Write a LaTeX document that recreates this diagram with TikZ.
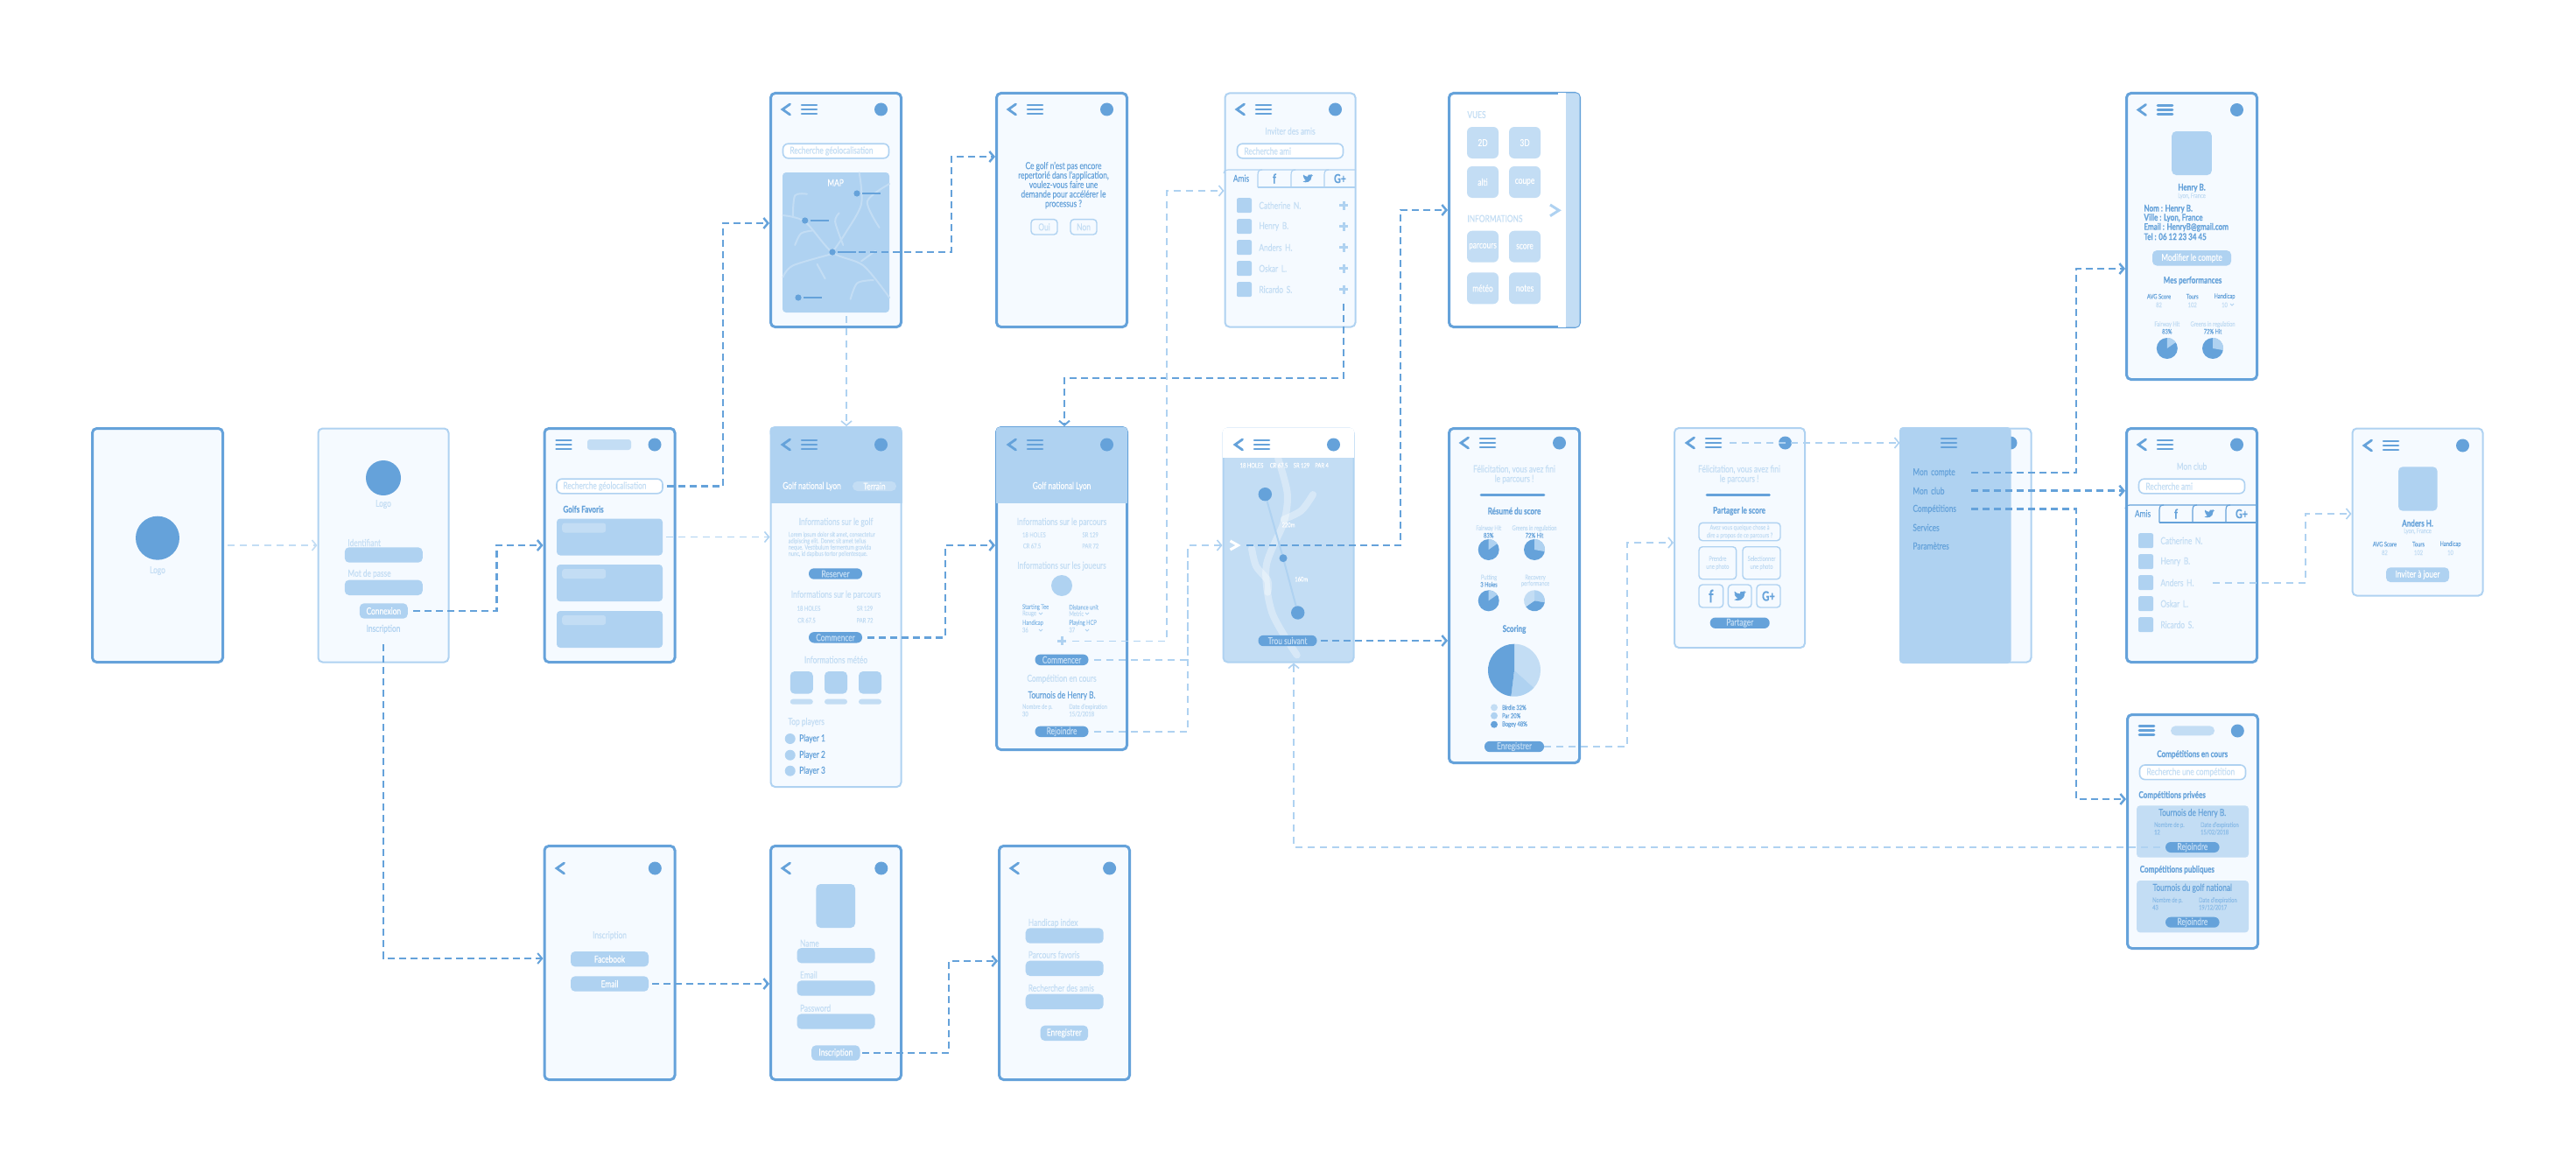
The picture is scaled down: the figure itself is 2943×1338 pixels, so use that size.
\documentclass[tikz,border=0pt]{standalone}
\usepackage{fontspec}
\setmainfont[FakeStretch=0.76,FakeBold=0.25]{Lato}
\usetikzlibrary{arrows.meta}
\definecolor{bleufort}{HTML}{65A2DA}
\definecolor{bleumoyen}{HTML}{AFD2F1}
\definecolor{bleuclair}{HTML}{C3DDF4}
\definecolor{fond}{HTML}{F5FAFF}
\definecolor{demi}{HTML}{8DBDE8}
\tikzset{
ecran/.style={rectangle,rounded corners=2.5pt,inner sep=0pt,minimum width=74.5pt,minimum height=133.5pt,fill=fond},
efort/.style={ecran,draw=bleufort,line width=1.5pt},
eclair/.style={ecran,draw=bleumoyen,line width=1pt},
txt/.style={inner sep=0pt,font=\fontsize{5.5}{6.5}\selectfont},
ptxt/.style={inner sep=0pt,font=\fontsize{3.8}{4.5}\selectfont},
gtxt/.style={inner sep=0pt,font=\fontsize{5.3}{6.5}\selectfont\bfseries},
tc/.style={text=bleuclair},
tm/.style={text=bleumoyen},
tf/.style={text=bleufort},
td/.style={text=demi},
tw/.style={text=white},
ga/.style={anchor=west},
champ/.style={rectangle,rounded corners=2.5pt,inner sep=0pt,fill=bleumoyen,minimum width=44.5pt,minimum height=8.7pt},
bmoyen/.style={champ,txt,tw},
bfort/.style={rectangle,rounded corners=3pt,inner sep=0pt,fill=bleufort,minimum width=30.5pt,minimum height=6.2pt,txt,tc},
saisie/.style={rectangle,rounded corners=3pt,inner sep=0pt,draw=bleumoyen,line width=.8pt,fill=white,minimum width=60.5pt,minimum height=8.3pt},
option/.style={rectangle,rounded corners=2pt,inner sep=0pt,draw=bleumoyen,line width=.7pt},
carre/.style={rectangle,rounded corners=1pt,inner sep=0pt,fill=bleumoyen,minimum size=8.5pt},
tuile/.style={rectangle,rounded corners=3pt,inner sep=0pt,fill=bleuclair,minimum size=18pt,txt,tw},
carte/.style={rectangle,rounded corners=2pt,inner sep=0pt,fill=bleumoyen,minimum width=60.5pt,minimum height=21pt},
pastille/.style={rectangle,rounded corners=1.5pt,inner sep=0pt,fill=bleuclair},
point/.style={circle,inner sep=0pt,fill=bleufort,minimum size=3.6pt},
lienfort/.style={draw=bleufort,line width=1.25pt,dash pattern=on 4pt off 2.5pt,-{Straight Barb[length=2.5pt,width=6pt]}},
lienclair/.style={draw=bleumoyen,line width=.8pt,dash pattern=on 4pt off 3pt,-{Straight Barb[length=2.5pt,width=6pt]}},
}
\newcommand{\retour}[2]{\draw[bleufort,line width=1.4pt,line cap=round] (#1+8.5,#2-6) -- (#1,#2) -- (#1+8.5,#2+6);}
\newcommand{\menuB}[2]{\foreach \dy in {-5,0,5} {\draw[bleufort,line width=1.3pt,line cap=round] (#1+1,#2+\dy) -- (#1+18,#2+\dy);}}
\newcommand{\rond}[2]{\fill[bleufort] (#1,#2) circle (7.5);}
\newcommand{\entete}[2]{\retour{#1+15}{#2}\menuB{#1+36}{#2}\rond{#1+127.5}{#2}}
\newcommand{\plusB}[2]{\draw[bleumoyen,line width=1.5pt] (#1-5,#2) -- (#1+5,#2) (#1,#2-5) -- (#1,#2+5);}
\newcommand{\sousv}[2]{\draw[bleumoyen,line width=.4pt] (#1-2,#2-1) -- (#1,#2+1) -- (#1+2,#2-1);}
\newcommand{\oiseau}[3]{\fill[bleufort,shift={(#1,#2)},scale=#3] (-5.5,3.5) .. controls (-2,5.5) and (4.5,4) .. (4.5,-2.5) -- (6,-4) -- (4,-3.6) -- (5,-5) -- (3.2,-4.3) .. controls (1.5,-5.5) and (-.5,-4) .. (0,-2.2) .. controls (-2,-2.2) and (-4,-3.2) .. (-5,-4.5) .. controls (-5.5,-3) and (-5,-2) .. (-4,-1.2) -- (-5,-1.5) .. controls (-5,-.5) and (-4,.3) .. (-3.2,.5) -- (-4.2,.5) .. controls (-3.8,1.5) and (-3,2) .. (-2,2.1) .. controls (-3,3) and (-4.2,3.5) .. (-5.5,3.5) -- cycle;}
\newcommand{\onglets}[4]{\draw[#4,line width=.6pt] (#2,#3+93) .. controls (#2,#3+90) and (#2+2,#3+89) .. (#2+5,#3+89) -- (#2+151,#3+89);
\foreach \sep in {39,77,115} {\draw[#4,line width=.6pt] (#2+\sep,#3+109) -- (#2+\sep,#3+95) .. controls (#2+\sep,#3+91) and (#2+\sep+1,#3+89) .. (#2+\sep+5,#3+89);}
\draw[#4,line width=.6pt] (#2+39,#3+109) -- (#2+151,#3+109);
\node (#1a) at (#2+20,#3+98.7) [txt,tf] {Amis};
\node (#1f) at (#2+58,#3+99) [inner sep=0pt,tf,font=\fontsize{7.5}{8}\selectfont\bfseries] {f};
\oiseau{#2+96}{#3+99}{1}
\node (#1g) at (#2+133,#3+99) [inner sep=0pt,tf,font=\fontsize{7}{8}\selectfont\bfseries] {G+};}
\newcommand{\listeNoms}[3]{\foreach \nom [count=\i] in {Catherine N.,Henry B.,Anders H.,Oskar L.,Ricardo S.} {
\node (#1C\i) at (#2+23.5,#3+105.7+24*\i) [carre] {};
\node (#1N\i) at (#2+40,#3+105.7+24*\i) [txt,tc,ga,text width=29.5pt] {\nom};}}
\newcommand{\bandeau}[5]{\fill[#5,rounded corners=2pt] (#1,#2) rectangle (#3,#2+12);
\fill[#5] (#1,#2+6) rectangle (#3,#4);}
\newcommand{\secteur}[6]{\fill[#6] (#1,#2) -- ++(#4:#3) arc[start angle=#4,end angle=#5,radius=#3] -- cycle;}
\newcommand{\petitPie}[3]{\fill[bleufort] (#1,#2) circle (12);
\secteur{#1}{#2}{6pt}{90}{#3}{bleumoyen}}
\begin{document}
\begin{tikzpicture}[x=0.5pt,y=-0.5pt]
\useasboundingbox (0,0) rectangle (2943,1338);

\node (ELOGO) at (180,623) [efort] {};
\fill[bleufort] (180,614.7) circle (25);
\node (ELOGOt) at (180,652) [txt,tc] {Logo};

\node (ECNX) at (438,623) [eclair] {};
\fill[bleufort] (438,546) circle (20);
\node (ECNXa) at (438,576) [txt,tc] {Logo};
\node (ECNXb) at (397,620) [txt,tc,ga] {Identifiant};
\node (ECNXc) at (438.3,634) [champ] {};
\node (ECNXd) at (397,655.7) [txt,tc,ga] {Mot de passe};
\node (ECNXe) at (438.3,671.3) [champ] {};
\node (BCNX) at (438.3,698) [bmoyen,minimum width=27.5pt] {Connexion};
\node (TINS) at (438,718.7) [txt,tm] {Inscription};

\node (EFAV) at (696.5,623) [efort] {};
\menuB{634.5}{508}
\node (EFAVp) at (696,508) [pastille,minimum width=25pt,minimum height=6pt] {};
\rond{748}{508}
\node (RGEO) at (696.5,555.5) [saisie] {};
\node (RGEOt) at (643,555.5) [txt,tc,ga] {Recherche géolocalisation};
\node (EFAVt) at (643,581.7) [gtxt,tf,ga] {Golfs Favoris};
\foreach \yc [count=\i] in {613.5,666,719} {
\node (CFAV\i) at (696.5,\yc) [carte] {};
\node (CFAVp\i) at (667.2,\yc-10.5) [pastille,minimum width=25pt,minimum height=5.5pt] {};
}

\node (EMAP) at (955,240) [efort] {};
\entete{879}{125}
\node (RMAP) at (955,172.5) [saisie] {};
\node (RMAPt) at (902,172.5) [txt,tc,ga] {Recherche géolocalisation};
\node (CMAP) at (955,277) [carte,minimum width=61pt,minimum height=80pt] {};
\node (CMAPt) at (954.6,208.7) [txt,tw] {MAP};
\begin{scope}[shift={(860,90)},x=.2296pt,y=-.1667pt]
\foreach \route in {{(75,468) (130,490) (198,595) (275,640) (340,750)},{(75,680) (100,640) (198,600)},{(265,322) (270,430) (230,530) (198,595)},{(340,360) (285,420) (315,510)},{(100,470) (105,400) (135,395)},{(215,460) (205,490) (225,570)},{(160,635) (180,685)},{(105,570) (120,530) (150,520)},{(243,755) (260,700) (300,690)},{(270,625) (305,590)}} {
\draw[bleuclair,line width=1pt,line cap=round] plot[smooth] coordinates {\route};
}
\end{scope}
\foreach \xa/\ya/\nom in {979/221/A,919.7/252/B,951/288/C,912/340/D} {
\node (PT\nom) at (\xa,\ya) [point] {};
\draw[bleufort,line width=1.1pt] (\xa+6,\ya) -- (\xa+27,\ya);
}

\node (EDEM) at (1213,240) [efort] {};
\entete{1137}{125}
\node (EDEMt) at (1215,211.5) [txt,tf,align=center,font=\fontsize{5.5}{5.4}\selectfont] {Ce golf n’est pas encore\\repertorié dans l’application,\\voulez-vous faire une\\demande pour accélérer le\\processus ?};
\node (BOUI) at (1193,259.3) [option,minimum width=15pt,minimum height=8.7pt,txt,tc] {Oui};
\node (BNON) at (1238,259.3) [option,minimum width=15pt,minimum height=8.7pt,txt,tc] {Non};

\node (EAMI) at (1474,240) [eclair] {};
\entete{1398}{125}
\node (EAMIt) at (1474,149.7) [txt,tc] {Inviter des amis};
\node (RAMI) at (1474,172.5) [saisie] {};
\node (RAMIt) at (1421,172.5) [txt,tc,ga] {Recherche ami};
\onglets{OAMI}{1398}{105}{bleumoyen}
\listeNoms{LAMI}{1398}{105}
\foreach \i in {1,...,5} {\plusB{1535}{210.7+24*\i}}
\coordinate (PAMI) at (1535,330.7);

\node (EVUE) at (1730,240) [efort,fill=white] {};
\fill[bleuclair,rounded corners=2pt] (1780,106.5) rectangle (1804.5,373.5);
\fill[white] (1780,106.5) rectangle (1789,373.5);
\node (EVUEa) at (1676,131) [txt,tc,ga] {VUES};
\node (EVUEb) at (1676,249.7) [txt,tc,ga] {INFORMATIONS};
\foreach \xc/\yc/\nom/\lab in {1694/163/a/2D,1742/163/b/3D,1694/208/c/alti,1742/208/d/coupe,1694/281.7/e/parcours,1742/281.7/f/score,1694/329.3/g/météo,1742/329.3/h/notes} {
\node (TV\nom) at (\xc,\yc) [tuile] {\lab};
}
\draw[bleumoyen,line width=1.5pt] (1771,234) -- (1781,240.3) -- (1771,246.7);

\node (EGOLF) at (955,693.5) [eclair,minimum height=205.5pt] {};
\bandeau{879.5}{487.5}{1030.5}{575}{bleumoyen}
\entete{879}{508}
\node (EGOLFa) at (927.5,555.7) [txt,tw] {Golf national Lyon};
\node (BTER) at (999,555.5) [pastille,rounded corners=2.7pt,minimum width=25pt,minimum height=5.5pt,txt,tw] {Terrain};
\node (EGOLFb) at (955,596.7) [txt,tc] {Informations sur le golf};
\node (EGOLFc) at (900.4,622) [ptxt,tc,ga,align=left,font=\fontsize{3.7}{3.65}\selectfont] {Lorem ipsum dolor sit amet, consectetur\\adipiscing elit. Donec sit amet tellus\\neque. Vestibulum fermentum gravida\\nunc, id dapibus tortor pellentesque.};
\node (BRES) at (954.5,655.5) [bfort] {Reserver};
\node (EGOLFd) at (955,679.7) [txt,tc] {Informations sur le parcours};
\node (EGOLFe) at (924,695) [ptxt,tc] {18 HOLES};
\node (EGOLFf) at (988,695) [ptxt,tc] {SR 129};
\node (EGOLFg) at (921.5,708.7) [ptxt,tc] {CR 67.5};
\node (EGOLFh) at (988,708.7) [ptxt,tc] {PAR 72};
\node (BCOA) at (954.5,728.3) [bfort] {Commencer};
\node (EGOLFi) at (955,753.7) [txt,tc] {Informations météo};
\foreach \xc [count=\i] in {915.8,955,994} {
\node (TM\i) at (\xc,779.8) [pastille,fill=bleumoyen,rounded corners=2.5pt,minimum width=13pt,minimum height=12.8pt] {};
\node (PM\i) at (\xc,801.7) [pastille,minimum width=13pt,minimum height=3pt] {};
}
\node (EGOLFj) at (900,825) [txt,tc,ga] {Top players};
\foreach \yc [count=\i] in {844,862.7,880.7} {
\fill[bleumoyen] (902.7,\yc) circle (6);
\node (PL\i) at (912.8,\yc) [txt,tf,ga] {Player \i};
}

\node (EPARC) at (1213,672.5) [efort,minimum height=184pt] {};
\bandeau{1138}{488}{1288}{575}{bleumoyen}
\entete{1137}{508}
\node (EPARCa) at (1213,555.7) [txt,tw] {Golf national Lyon};
\node (EPARCb) at (1213,596.7) [txt,tc] {Informations sur le parcours};
\node (EPARCc) at (1181.4,611) [ptxt,tc] {18 HOLES};
\node (EPARCd) at (1245.7,611) [ptxt,tc] {SR 129};
\node (EPARCe) at (1179,623.7) [ptxt,tc] {CR 67.5};
\node (EPARCf) at (1245.7,623.7) [ptxt,tc] {PAR 72};
\node (EPARCg) at (1213,646.7) [txt,tc] {Informations sur les joueurs};
\fill[bleumoyen] (1213,669) circle (12);
\node (EPARCh) at (1167.6,693.7) [ptxt,td,ga] {Starting Tee};
\node (EPARCi) at (1167.6,701) [ptxt,tc,ga] {Rouge};
\node (EPARCj) at (1221,693.7) [ptxt,td,ga] {Distance unit};
\node (EPARCk) at (1221,701) [ptxt,tc,ga] {Metric};
\node (EPARCl) at (1167.6,711.7) [ptxt,td,ga] {Handicap};
\node (EPARCm) at (1167.6,719.7) [ptxt,tc,ga] {36};
\node (EPARCn) at (1221,711.7) [ptxt,td,ga] {Playing HCP};
\node (EPARCo) at (1221,719.7) [ptxt,tc,ga] {37};
\sousv{1189}{701}\sousv{1242}{701}\sousv{1189}{720}\sousv{1242}{720}
\plusB{1213}{732.3}
\coordinate (PPARC) at (1213,732.3);
\node (BCOB) at (1213,753.8) [bfort] {Commencer};
\node (EPARCp) at (1213,775.7) [txt,tc] {Compétition en cours};
\node (EPARCq) at (1213,794.7) [txt,tf] {Tournois de Henry B.};
\node (EPARCr) at (1167.6,807.7) [ptxt,tc,ga] {Nombre de p.};
\node (EPARCs) at (1167.6,815.7) [ptxt,tc,ga] {30};
\node (EPARCt) at (1221,807.7) [ptxt,tc,ga] {Date d’expiration};
\node (EPARCu) at (1221,815.7) [ptxt,tc,ga] {15/2/2018};
\node (BREJ) at (1213,835.8) [bfort] {Rejoindre};

\node (ETROU) at (1472,623) [eclair,fill=bleuclair] {};
\bandeau{1397}{489}{1547}{523}{white}
\entete{1396}{508}
\begin{scope}[shift={(1380,480)},x=.1667pt,y=-.1667pt]
\draw[white,opacity=.35,line width=4pt,line cap=round] plot[smooth] coordinates {(240,130) (272,250) (260,350) (200,500) (220,660) (305,805)};
\draw[white,opacity=.35,line width=4pt,line cap=round] plot[smooth] coordinates {(360,255) (320,310) (260,340)};
\draw[white,opacity=.35,line width=4pt,line cap=round] plot[smooth] coordinates {(150,440) (165,500) (205,550) (205,590)};
\draw[bleumoyen,line width=1pt] (196,254) -- (258,473) -- (308,660);
\end{scope}
\node (ETROUa) at (1430,531.7) [ptxt,tw] {18 HOLES};
\node (ETROUb) at (1461,531.7) [ptxt,tw] {CR 67.5};
\node (ETROUc) at (1487,531.7) [ptxt,tw] {SR 129};
\node (ETROUd) at (1510,531.7) [ptxt,tw] {PAR 4};
\fill[bleufort] (1445.3,564.7) circle (7.7);
\fill[bleufort] (1466,637.7) circle (4.5);
\fill[bleufort] (1482.7,700) circle (7.7);
\node (ETROUe) at (1472,599.7) [ptxt,tw] {220m};
\node (ETROUf) at (1486.7,661.7) [ptxt,tw] {160m};
\draw[white,line width=1.5pt] (1405.5,618) -- (1414.5,623) -- (1405.5,628);
\coordinate (CTROU) at (1412,623);
\node (BTROU) at (1471,732) [bfort,minimum width=33.5pt] {Trou suivant};

\node (ESCO) at (1730,680.5) [efort,minimum height=191pt] {};
\entete{1654}{506}
\node (ESCOa) at (1730,542) [txt,tc,align=center,font=\fontsize{5.5}{5.5}\selectfont] {Félicitation, vous avez fini\\le parcours !};
\draw[bleufort,line width=1.4pt,line cap=round] (1692,565.3) -- (1764,565.3);
\node (ESCOb) at (1730,583.7) [gtxt,tf] {Résumé du score};
\node (ESCOc) at (1700.7,603.7) [ptxt,tc] {Fairway Hit};
\node (ESCOd) at (1700.7,611.7) [ptxt,tf] {83\%};
\node (ESCOe) at (1753,603.7) [ptxt,tc] {Greens in regulation};
\node (ESCOf) at (1753,611.7) [ptxt,tf] {72\% Hit};
\petitPie{1700.7}{628}{35}
\petitPie{1753}{628}{-10}
\node (ESCOg) at (1701,660) [ptxt,tc] {Putting};
\node (ESCOh) at (1701,667.7) [ptxt,tf] {3 Holes};
\node (ESCOi) at (1754,660) [ptxt,tc] {Recovery};
\node (ESCOj) at (1754,667) [ptxt,tc] {performance};
\petitPie{1700.7}{686.3}{35}
\secteur{1753}{686.3}{6pt}{90}{-10}{bleumoyen}
\secteur{1753}{686.3}{6pt}{-10}{-145}{bleufort}
\secteur{1753}{686.3}{6pt}{-145}{-270}{bleuclair}
\node (ESCOk) at (1730,719) [gtxt,tf] {Scoring};
\secteur{1730}{765.7}{15pt}{90}{-42}{bleuclair}
\secteur{1730}{765.7}{15pt}{-42}{-97}{bleumoyen}
\secteur{1730}{765.7}{15pt}{-97}{-270}{bleufort}
\foreach \yc/\coul/\lab [count=\i] in {808.3/bleuclair/Birdie 32\%,817.7/bleumoyen/Par 20\%,827.7/bleufort/Bogey 48\%} {
\fill[\coul] (1707,\yc) circle (4);
\node (LEG\i) at (1715.7,\yc) [ptxt,tf,ga] {\lab};
}
\node (BENR) at (1730,853) [bfort,minimum width=34pt] {Enregistrer};

\node (EPAR) at (1987.5,614.5) [eclair,minimum height=125.5pt] {};
\entete{1912}{506}
\node (EPARa) at (1987,542) [txt,tc,align=center,font=\fontsize{5.5}{5.5}\selectfont] {Félicitation, vous avez fini\\le parcours !};
\draw[bleufort,line width=1.4pt,line cap=round] (1950,565.3) -- (2021.5,565.3);
\node (EPARb) at (1987,583.7) [gtxt,tf] {Partager le score};
\node (EPARc) at (1987.5,607.5) [option,minimum width=46.5pt,minimum height=10.2pt,ptxt,tc,align=center] {Avez vous quelque chose à\\dire a propos de ce parcours ?};
\node (EPARd) at (1962.3,643.2) [option,minimum width=21.3pt,minimum height=18.5pt,ptxt,tc,align=center] {Prendre\\une photo};
\node (EPARe) at (2012.5,643.2) [option,minimum width=21.5pt,minimum height=18.5pt,ptxt,tc,align=center] {Selectionner\\une photo};
\node (EPARf) at (1954.8,681) [option,minimum width=13.8pt,minimum height=13pt,inner sep=0pt,tf,font=\fontsize{10}{10}\selectfont\bfseries] {f};
\node (EPARg) at (1987.7,681) [option,minimum width=13.3pt,minimum height=13pt] {};
\oiseau{1987.7}{681}{1.2}
\node (EPARh) at (2020.5,681) [option,minimum width=13.5pt,minimum height=13pt,inner sep=0pt,tf,font=\fontsize{7.5}{8}\selectfont\bfseries] {G+};
\node (BPAR) at (1987.7,711.7) [bfort,minimum width=34pt] {Partager};
\coordinate (CPAR) at (1976,506);

\node (EMEN) at (2246,623) [eclair] {};
\rond{2297}{506}
\fill[bleumoyen,rounded corners=2pt] (2170,488) rectangle (2297.6,758);
\menuB{2217}{506}
\foreach \yc/\lab/\nom in {540/Mon compte/MA,560.7/Mon club/MB,581.7/Compétitions/MC,602.7/Services/MD,623.7/Paramètres/ME} {
\node (\nom) at (2185,\yc) [txt,tf,ga,text width=33pt] {\lab};
}

\node (ECPT) at (2504,270) [efort,minimum height=163.5pt] {};
\entete{2428}{125.5}
\node (ECPTa) at (2504,175) [carre,rounded corners=2.5pt,minimum width=22.8pt,minimum height=25pt] {};
\node (ECPTb) at (2504,214.7) [gtxt,tf] {Henry B.};
\node (ECPTc) at (2504,224) [ptxt,tc] {Lyon, France};
\foreach \yc/\lab [count=\i] in {238.7/Nom : Henry B.,249/{Ville : Lyon, France},259.7/Email : HenryB@gmail.com,270.3/Tel : 06 12 23 34 45} {
\node (ECPTl\i) at (2449,\yc) [gtxt,tf,ga] {\lab};
}
\node (BMOD) at (2504,294.8) [bmoyen,minimum width=45pt] {Modifier le compte};
\node (ECPTd) at (2505,320.7) [gtxt,tf] {Mes performances};
\node (ECPTe) at (2466.5,338.7) [ptxt,tf] {AVG Score};
\node (ECPTf) at (2504.7,338.7) [ptxt,tf] {Tours};
\node (ECPTg) at (2541.5,338.7) [ptxt,tf] {Handicap};
\node (ECPTh) at (2466.5,348.3) [ptxt,tc] {82};
\node (ECPTi) at (2504.7,348.3) [ptxt,tc] {102};
\node (ECPTj) at (2541.5,348.3) [ptxt,tc] {10};
\sousv{2550}{348}
\node (ECPTk) at (2475.8,370.7) [ptxt,tc] {Fairway Hit};
\node (ECPTm) at (2475.8,378.7) [ptxt,tf] {83\%};
\node (ECPTn) at (2528,370.7) [ptxt,tc] {Greens in regulation};
\node (ECPTo) at (2528,378.7) [ptxt,tf] {72\% Hit};
\petitPie{2475.8}{398}{35}
\petitPie{2528}{398}{-10}

\node (ECLUB) at (2504,623) [efort] {};
\entete{2428}{508}
\node (ECLUBt) at (2504,532.7) [txt,tc] {Mon club};
\node (RCLUB) at (2504,555.5) [saisie] {};
\node (RCLUBt) at (2451,555.5) [txt,tc,ga] {Recherche ami};
\onglets{OCLUB}{2428}{488}{bleufort}
\listeNoms{LCLUB}{2428}{488}

\node (EAND) at (2762,585) [eclair,minimum height=95.5pt] {};
\entete{2686}{509}
\node (EANDa) at (2762.3,558.5) [carre,rounded corners=2.5pt,minimum width=22.3pt,minimum height=25.2pt] {};
\node (EANDb) at (2762,597.7) [gtxt,tf] {Anders H.};
\node (EANDc) at (2762,607) [ptxt,tc] {Lyon, France};
\node (EANDd) at (2724.4,621.7) [ptxt,tf] {AVG Score};
\node (EANDe) at (2763,621.7) [ptxt,tf] {Tours};
\node (EANDf) at (2799.5,621.7) [ptxt,tf] {Handicap};
\node (EANDg) at (2724.4,631.3) [ptxt,tc] {82};
\node (EANDh) at (2763,631.3) [ptxt,tc] {102};
\node (EANDi) at (2799.5,631.3) [ptxt,tc] {10};
\node (BINV) at (2762,656.7) [bmoyen,minimum width=36pt,minimum height=8.4pt] {Inviter à jouer};

\node (ECOMP) at (2505,950) [efort] {};
\menuB{2443}{834.7}
\node (ECOMPp) at (2505,834.8) [pastille,rounded corners=2.7pt,minimum width=25pt,minimum height=5.5pt] {};
\rond{2556.3}{835}
\node (ECOMPa) at (2504.7,862) [gtxt,tf] {Compétitions en cours};
\node (RCOMP) at (2505,882.3) [saisie] {};
\node (RCOMPt) at (2452,882.3) [txt,tc,ga] {Recherche une compétition};
\node (ECOMPb) at (2443,908.7) [gtxt,tf,ga] {Compétitions privées};
\node (CPRI) at (2505,950) [carte,fill=bleuclair,minimum width=64pt,minimum height=29.7pt] {};
\node (ECOMPc) at (2504.7,929) [txt,tf] {Tournois de Henry B.};
\node (ECOMPd) at (2460.7,942.7) [ptxt,td,ga] {Nombre de p.};
\node (ECOMPe) at (2460.7,950.7) [ptxt,td,ga] {12};
\node (ECOMPf) at (2513.7,942.7) [ptxt,td,ga] {Date d’expiration};
\node (ECOMPg) at (2513.7,950.7) [ptxt,td,ga] {15/02/2018};
\node (BREJA) at (2504.8,968) [bfort,minimum width=30.8pt,minimum height=6pt] {Rejoindre};
\node (ECOMPh) at (2444.3,993.7) [gtxt,tf,ga] {Compétitions publiques};
\node (CPUB) at (2505,1035.7) [carte,fill=bleuclair,minimum width=64pt,minimum height=29.7pt] {};
\node (ECOMPi) at (2504.7,1014.7) [txt,tf] {Tournois du golf national};
\node (ECOMPj) at (2458.7,1028.7) [ptxt,td,ga] {Nombre de p.};
\node (ECOMPk) at (2458.7,1036.7) [ptxt,td,ga] {43};
\node (ECOMPm) at (2511.7,1028.7) [ptxt,td,ga] {Date d’expiration};
\node (ECOMPn) at (2511.7,1036.7) [ptxt,td,ga] {19/12/2017};
\node (BREJB) at (2504.8,1053.7) [bfort,minimum width=30.8pt,minimum height=6pt] {Rejoindre};

\node (EINS) at (696.5,1100) [efort] {};
\retour{636}{992}
\rond{748.3}{992}
\node (EINSa) at (696.5,1069) [txt,tc] {Inscription};
\node (BFAC) at (696.5,1095.7) [bmoyen] {Facebook};
\node (BMAI) at (696.5,1124) [bmoyen] {Email};

\node (EINF) at (955,1100) [efort] {};
\retour{894}{992}
\rond{1006.8}{992}
\node (EINFa) at (954.7,1035) [carre,rounded corners=2.5pt,minimum width=22.3pt,minimum height=25pt] {};
\node (EINFb) at (913.6,1077.7) [txt,tc,ga] {Name};
\node (EINFc) at (955,1091.7) [champ] {};
\node (EINFd) at (913.6,1113.7) [txt,tc,ga] {Email};
\node (EINFe) at (955,1129) [champ] {};
\node (EINFf) at (913.6,1151.7) [txt,tc,ga] {Password};
\node (EINFg) at (955,1167) [champ] {};
\node (BINS) at (954.8,1203) [bmoyen,minimum width=27.7pt] {Inscription};

\node (EPRF) at (1216,1100) [efort] {};
\retour{1155}{992}
\rond{1267.6}{992}
\node (EPRFa) at (1174.4,1054.7) [txt,tc,ga] {Handicap index};
\node (EPRFb) at (1216.2,1069) [champ] {};
\node (EPRFc) at (1174.4,1090.7) [txt,tc,ga] {Parcours favoris};
\node (EPRFd) at (1216.2,1106.3) [champ] {};
\node (EPRFe) at (1174.4,1128.7) [txt,tc,ga] {Rechercher des amis};
\node (EPRFf) at (1216.2,1144.3) [champ] {};
\node (BENG) at (1215.8,1180.3) [bmoyen,minimum width=27.2pt] {Enregistrer};

\draw[lienclair,draw=bleuclair,shorten <=2pt] (ELOGO.east) -- (ECNX.west);
\draw[lienfort,shorten <=3pt] (BCNX.east) -| (567.5,623) -- (EFAV.west);
\draw[lienfort,line width=1pt,shorten <=6pt] (TINS.south) |- (EINS.west |- 0,1095);
\draw[lienfort,shorten <=2pt] (RGEO.east) -| (826,255) -- (EMAP.west |- 0,255);
\draw[lienclair,shorten <=2pt] (CFAV1.east) -- (CFAV1.east -| EGOLF.west);
\draw[lienfort,shorten <=13pt] (PTC.east) -| (1087,179) -- (EDEM.west |- 0,179);
\draw[lienclair,shorten <=15pt] (PTD.east) -| (EGOLF.north -| 967,0);
\draw[lienfort,shorten <=3pt] (BCOA.east) -| (1080,623) -- (EPARC.west |- 0,623);
\draw[lienfort,line width=1pt,shorten <=8pt] (PAMI) |- (1216,432) -- (EPARC.north -| 1216,0);
\draw[lienclair,shorten <=6pt] (PPARC) -| (1333,218) -- (EAMI.west |- 0,218);
\draw[lienclair,-,shorten <=3pt] (BCOB.east) -| (1357,623);
\draw[lienclair,shorten <=3pt] (BREJ.east) -| (1357,623) -- (ETROU.west);
\draw[lienfort,shorten <=6pt] (CTROU) -| (1600,240) -- (EVUE.west);
\draw[lienfort,shorten <=2pt] (BTROU.east) -- (BTROU.east -| ESCO.west);
\draw[lienclair] (BENR.east) -| (1859,620) -- (EPAR.west |- 0,620);
\draw[lienclair] (CPAR) -- (CPAR -| EMEN.west);
\draw[lienfort] (MA.east) -| (2372,307) -- (ECPT.west |- 0,307);
\draw[lienfort] (MB.east) -- (MB.east -| ECLUB.west);
\draw[lienfort] (MC.east) -| (2372,913) -- (ECOMP.west |- 0,913);
\draw[lienclair] (LCLUBN3.east) -| (2634,587) -- (EAND.west |- 0,587);
\draw[lienclair,shorten <=3pt] (BREJA.west) -| (ETROU.south -| 1478,0);
\draw[lienfort,shorten <=2pt] (BMAI.east) -- (BMAI.east -| EINF.west);
\draw[lienfort,shorten <=1pt] (BINS.east) -| (1084,1098) -- (EPRF.west |- 0,1098);
\end{tikzpicture}
\end{document}
